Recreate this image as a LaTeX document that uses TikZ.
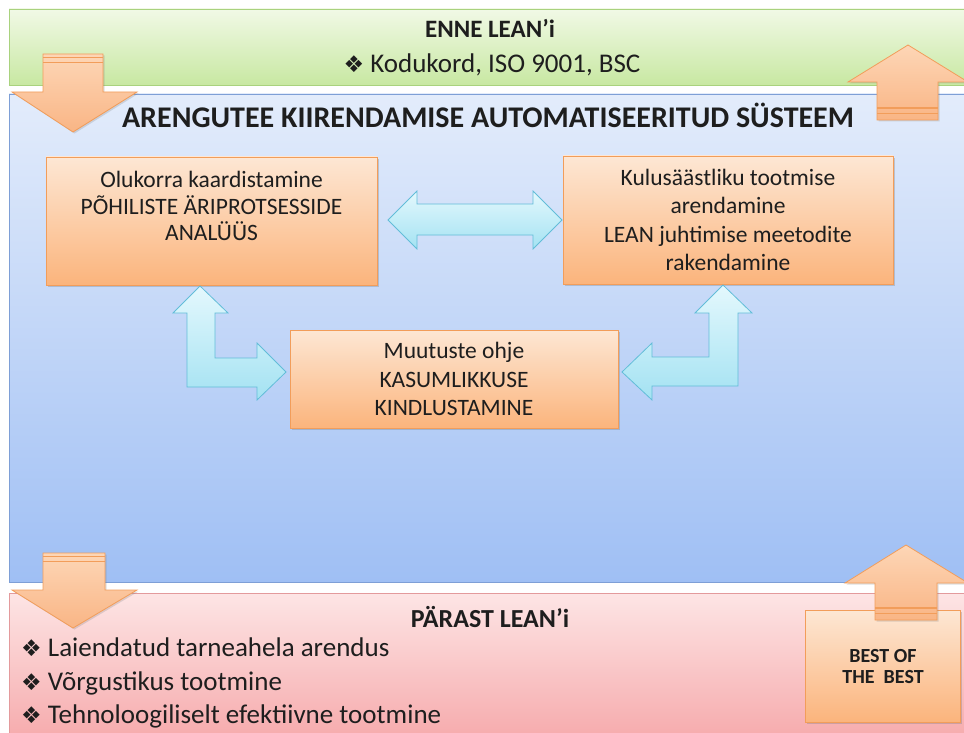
\documentclass[tikz,border=0pt]{standalone}
\usepackage{fontspec}
\setmainfont{Carlito}
\newfontfamily\dejavu{DejaVu Sans}
\usetikzlibrary{shadows}

\definecolor{greenT}{HTML}{F1F9E6}
\definecolor{greenB}{HTML}{C8E8A2}
\definecolor{greenL}{HTML}{A9D27E}
\definecolor{blueT}{HTML}{E3ECFB}
\definecolor{blueB}{HTML}{9FBFF4}
\definecolor{blueL}{HTML}{7E9FD6}
\definecolor{redT}{HTML}{FDE5E5}
\definecolor{redB}{HTML}{F6AAAC}
\definecolor{redL}{HTML}{E39A9C}
\definecolor{orT}{HTML}{FDE7D4}
\definecolor{orB}{HTML}{FBB47C}
\definecolor{orL}{HTML}{F29D5A}
\definecolor{arT}{HTML}{FDD6B6}
\definecolor{arB}{HTML}{F9B585}
\definecolor{cyT}{HTML}{E4F8FD}
\definecolor{cyB}{HTML}{A3E2F2}
\definecolor{cyL}{HTML}{62BDD8}
\definecolor{ink}{HTML}{1E1E1E}

\newcommand{\bul}{{\dejavu\fontsize{23}{24}\selectfont ❖}}

\tikzset{
  band/.style={draw, line width=0.8pt},
  obox/.style={draw=orL, line width=0.8pt, top color=orT, bottom color=orB,
    drop shadow={shadow xshift=2pt, shadow yshift=-2pt, opacity=0.35},
    text=ink, align=center, font=\fontsize{23.5}{28.5}\selectfont},
  cyarrow/.style={draw=cyL, line width=0.8pt, top color=cyT, bottom color=cyB},
  orarrow/.style={draw=orL, line width=0.8pt, top color=arT, bottom color=arB,
    drop shadow={shadow xshift=1.5pt, shadow yshift=-1.5pt, opacity=0.25}},
  stripe/.style={draw=orL, line width=1.6pt},
  txt/.style={text=ink, inner sep=0pt},
  heading/.style={txt, anchor=base, font=\bfseries\fontsize{25}{28}\selectfont},
  item/.style={txt, anchor=base west, font=\fontsize{27}{30}\selectfont},
}

\begin{document}
\begin{tikzpicture}[x=1pt, y=-1pt]
\useasboundingbox (0,0) rectangle (964,733);

% three stages as horizontal bands
\path[band, draw=greenL, top color=greenT, bottom color=greenB] (9,9) rectangle (968,85);
\path[band, draw=blueL, top color=blueT, bottom color=blueB] (9,94) rectangle (968,582);
\path[band, draw=redL, top color=redT, bottom color=redB] (9,593) rectangle (968,740);

% band headings and lists
\node[heading] (before) at (490,38) {ENNE LEAN’i};
\node[txt, anchor=base, font=\fontsize{27}{30}\selectfont] (beforelist) at (492,73) {\bul\ Kodukord, ISO 9001, BSC};
\node[txt, anchor=base, font=\bfseries\fontsize{30}{32}\selectfont] (system) at (488,128) {ARENGUTEE KIIRENDAMISE AUTOMATISEERITUD SÜSTEEM};
\node[heading, font=\bfseries\fontsize{26}{28}\selectfont] (after) at (490,627) {PÄRAST LEAN’i};
\node[item] (after1) at (21,656) {\bul\ Laiendatud tarneahela arendus};
\node[item] (after2) at (21,690) {\bul\ Võrgustikus tootmine};
\node[item] (after3) at (21,723) {\bul\ Tehnoloogiliselt efektiivne tootmine};

% process boxes
\node[obox, minimum width=331, minimum height=128] (analysis) at (211.5,221) {};
\node[txt, align=center, font=\fontsize{23.5}{26.5}\selectfont] (analysistext) at (211.5,206)
  {Olukorra kaardistamine\\PÕHILISTE ÄRIPROTSESSIDE\\ANALÜÜS};
\node[obox, minimum width=330, minimum height=128] (lean) at (728,220)
  {Kulusäästliku tootmise\\arendamine\\LEAN juhtimise meetodite\\rakendamine};
\node[obox, minimum width=328, minimum height=98] (change) at (454,379)
  {Muutuste ohje\\KASUMLIKKUSE\\KINDLUSTAMINE};

% cyan block arrows linking the boxes
\draw[cyarrow] (388,220) -- (417,191) -- (417,204) -- (533,204) -- (533,191)
  -- (562,220) -- (533,249) -- (533,235) -- (417,235) -- (417,249) -- cycle;
\draw[cyarrow] (200,286) -- (228,313) -- (215,313) -- (215,358) -- (257,358)
  -- (257,343) -- (286,372) -- (257,400) -- (257,387) -- (187,387) -- (187,313)
  -- (173,313) -- cycle;
\draw[cyarrow] (723,285) -- (752,313) -- (738,313) -- (738,386) -- (652,386)
  -- (652,400) -- (622,372) -- (652,343) -- (652,357) -- (709,357) -- (709,313)
  -- (695,313) -- cycle;

% result box
\node[obox, minimum width=155, minimum height=112] (best) at (882.5,666) {};
\node[txt, align=center, font=\bfseries\fontsize{20}{21}\selectfont] (besttext) at (883,667)
  {BEST OF\\THE\ \ BEST};

% orange striped arrows between the stages
\draw[orarrow] (43,54) -- (103,54) -- (103,92) -- (137,92) -- (73,132) -- (12,92) -- (43,92) -- cycle;
\draw[stripe] (43,57.5) -- (103,57.5) (43,62.5) -- (103,62.5);

\draw[orarrow] (908,45) -- (968,82) -- (938,82) -- (938,120) -- (877,120) -- (877,82) -- (848,82) -- cycle;
\draw[stripe] (877,108) -- (938,108) (877,113.5) -- (938,113.5);

\draw[orarrow] (43,553) -- (105,553) -- (105,590) -- (137,590) -- (73,628) -- (12,590) -- (43,590) -- cycle;
\draw[stripe] (43,556.5) -- (105,556.5) (43,561.5) -- (105,561.5);

\draw[orarrow] (906,545) -- (968,583) -- (937,583) -- (937,620) -- (875,620) -- (875,583) -- (845,583) -- cycle;
\draw[stripe] (875,608) -- (937,608) (875,613.5) -- (937,613.5);
\end{tikzpicture}
\end{document}
